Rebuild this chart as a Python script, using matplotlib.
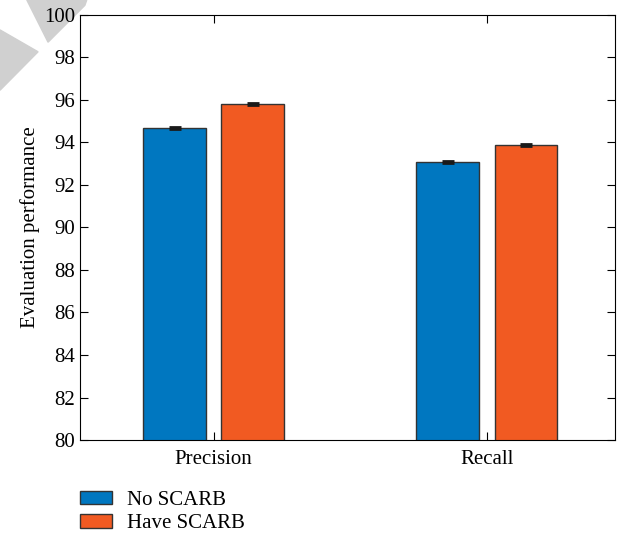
import numpy as np
import matplotlib.pyplot as plt
from matplotlib.patches import Polygon

categories = ["Precision", "Recall"]
series_names = ["No SCARB", "Have SCARB"]
no_scarb = [94.7, 93.1]
have_scarb = [95.8, 93.9]
no_scarb_err = [0.05, 0.05]
have_scarb_err = [0.05, 0.05]
y_ticks = [80, 82, 84, 86, 88, 90, 92, 94, 96, 98, 100]

plt.rcParams["font.family"] = ["Liberation Serif", "DejaVu Serif"]

fig = plt.figure(figsize=(6.24, 5.34), dpi=100)

# grey watermark in the corner, kept under the axes and its labels
fig.patches.append(Polygon([[0.0, 0.944], [0.061, 0.903], [0.0, 0.831]], closed=True,
                           transform=fig.transFigure, color="#d0d0d0", zorder=-5))
fig.patches.append(Polygon([[0.043, 1.0], [0.139, 1.0], [0.136, 0.99], [0.077, 0.921]],
                           closed=True, transform=fig.transFigure, color="#d0d0d0", zorder=-5))

ax = fig.add_axes([0.128, 0.176, 0.858, 0.796])
ax.patch.set_alpha(0)

x = np.arange(1, len(categories) + 1)
w = 0.23
off = 0.143
ax.bar(x - off, no_scarb, w, yerr=no_scarb_err, color="#0077c0", edgecolor="#333333",
       linewidth=1.0, label=series_names[0],
       error_kw=dict(ecolor="#1a1a1a", capsize=4, capthick=2, elinewidth=1.5))
ax.bar(x + off, have_scarb, w, yerr=have_scarb_err, color="#f15a22", edgecolor="#333333",
       linewidth=1.0, label=series_names[1],
       error_kw=dict(ecolor="#1a1a1a", capsize=4, capthick=2, elinewidth=1.5))

ax.set_xlim(0.51, 2.47)
ax.set_ylim(80, 100)
ax.set_yticks(y_ticks)
ax.set_xticks(x)
ax.set_xticklabels(categories)
ax.tick_params(direction="in", top=True, right=True, labelsize=15, length=6)
ax.tick_params(axis="x", pad=7)
ax.set_ylabel("Evaluation performance", fontsize=15, labelpad=3)

ax.legend(loc="upper left", bbox_to_anchor=(-0.016, -0.1), frameon=False,
          fontsize=15, handlelength=1.55, handleheight=0.63, labelspacing=0.2,
          handletextpad=0.7, borderaxespad=0)

plt.savefig("out.png", dpi=100)
